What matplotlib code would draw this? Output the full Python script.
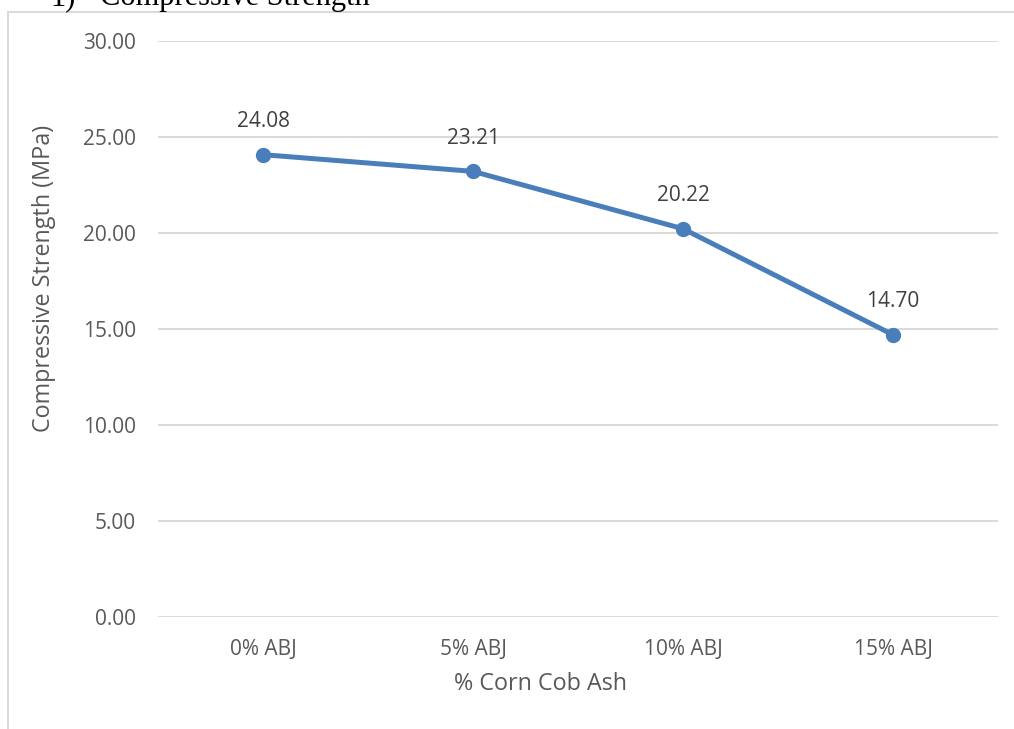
import matplotlib
matplotlib.use("Agg")
import matplotlib.pyplot as plt
from matplotlib.lines import Line2D

# Compressive strength vs. corn cob ash replacement
categories = ["0% ABJ", "5% ABJ", "10% ABJ", "15% ABJ"]
strength = [24.08, 23.21, 20.22, 14.70]
y_ticks = [0, 5, 10, 15, 20, 25, 30]

W, H = 1014, 729
fig = plt.figure(figsize=(W / 100, H / 100), dpi=100)
fig.patch.set_facecolor("white")

# plot area in pixel terms
left, right, top, bottom = 158, 998, 41, 617
ax = fig.add_axes([left / W, 1 - bottom / H, (right - left) / W, (bottom - top) / H])

font = "Open Sans"
line_color = "#4A7EBB"
grid_color = "#D9D9D9"
text_color = "#595959"

x = list(range(len(categories)))
ax.plot(x, strength, color=line_color, linewidth=3.6, marker="o",
        markersize=10, solid_capstyle="round", zorder=3)

for xi, v in zip(x, strength):
    ax.annotate(f"{v:.2f}", (xi, v), xytext=(0, 24), textcoords="offset points",
                ha="center", va="center", fontsize=15, color="#404040",
                family=font)

ax.set_xlim(-0.5, len(categories) - 0.5)
ax.set_ylim(0, 30)
ax.set_yticks(y_ticks)
ax.set_yticklabels([f"{t:.2f}" for t in y_ticks], family=font, fontsize=15,
                   color=text_color)
ax.set_xticks(x)
ax.set_xticklabels(categories, family=font, fontsize=15, color=text_color)
ax.tick_params(axis="both", length=0)
ax.tick_params(axis="y", pad=16)
ax.tick_params(axis="x", pad=16)

ax.grid(axis="y", color=grid_color, linewidth=1.4)
ax.set_axisbelow(True)
for s in ax.spines.values():
    s.set_visible(False)

# axis titles, placed by pixel position
fig.text(44 / W, 1 - 278 / H, "Compressive Strength (MPa)", family=font,
         fontsize=16.8, color=text_color, rotation=90, ha="center", va="center")
fig.text(541 / W, 1 - 684 / H, "% Corn Cob Ash", family=font, fontsize=16.8,
         color=text_color, ha="center", va="center")

# chart frame
frame_color = "#D9D9D9"
fig.add_artist(Line2D([8 / W, 8 / W], [0, 1 - 12 / H], transform=fig.transFigure,
                      color=frame_color, linewidth=1.4))
fig.add_artist(Line2D([8 / W, 1], [1 - 12 / H, 1 - 12 / H], transform=fig.transFigure,
                      color=frame_color, linewidth=1.4))

# section heading above the chart
fig.text(50 / W, 1 - 5 / H, "1)", family="Liberation Serif", fontsize=22,
         color="black", va="baseline", ha="left")
fig.text(100 / W, 1 - 5 / H, "Compressive Strength", family="Liberation Serif",
         fontsize=22, color="black", va="baseline", ha="left")

fig.savefig("out.png", dpi=100, facecolor="white")
